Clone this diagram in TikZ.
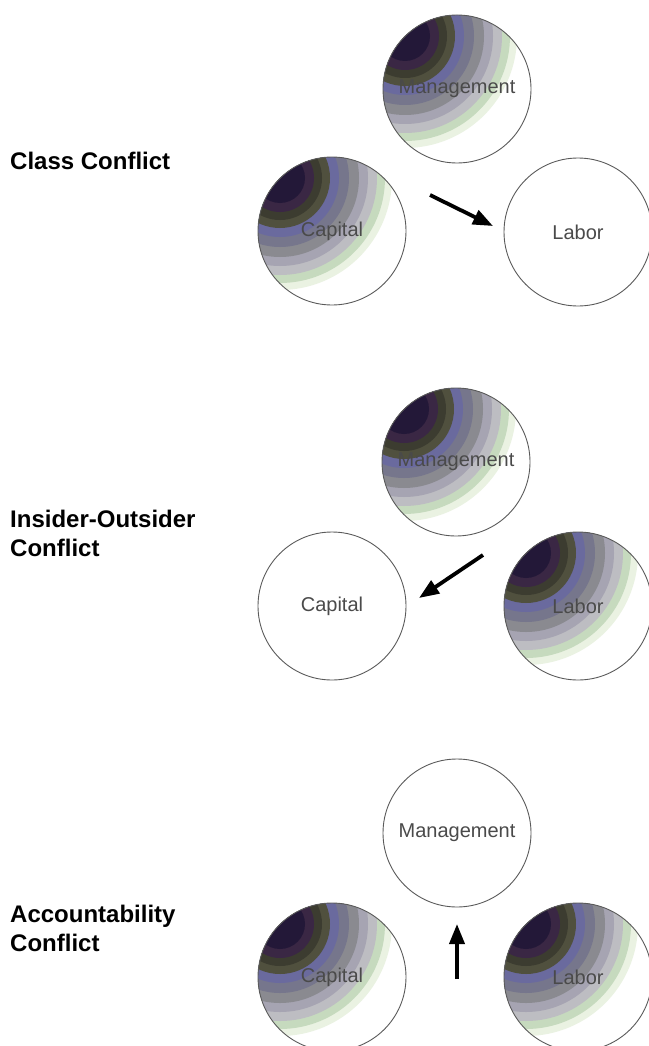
\documentclass[tikz,border=0pt]{standalone}
\usepackage{fontspec}
\setmainfont{Liberation Sans}
\usetikzlibrary{arrows.meta}
\definecolor{bandA}{HTML}{231838}
\definecolor{bandB}{HTML}{3A2744}
\definecolor{bandC}{HTML}{3C3C30}
\definecolor{bandD}{HTML}{50503E}
\definecolor{bandE}{HTML}{6A6A9E}
\definecolor{bandF}{HTML}{76768C}
\definecolor{bandG}{HTML}{8A8A90}
\definecolor{bandH}{HTML}{A6A4B2}
\definecolor{bandI}{HTML}{BDBDC2}
\definecolor{bandJ}{HTML}{C6DABE}
\definecolor{bandK}{HTML}{EAF2E2}
\definecolor{rim}{HTML}{5A5A5A}
\definecolor{labelgray}{HTML}{4A4A4A}
\begin{document}
\begin{tikzpicture}[x=1pt,y=-1pt,
  ball/.style={circle,draw=rim,line width=0.9pt,fill=white,minimum size=148pt,inner sep=0pt,
    text=labelgray,font=\fontsize{20}{23}\selectfont},
  shaded/.style={ball,path picture={
    \foreach \rr/\cc in {112/bandK,105/bandJ,97/bandI,88/bandH,79/bandG,69/bandF,
                         59/bandE,50/bandD,42/bandC,34/bandB,25/bandA}
      \fill[\cc] ([shift={(-52,-53)}]path picture bounding box.center) circle (\rr pt);}},
  title/.style={anchor=north west,inner sep=0pt,align=left,font=\fontsize{24}{29}\selectfont\bfseries},
  push/.style={line width=3.8pt,-{Triangle[length=20pt,width=15pt]}}]
\useasboundingbox (0,0) rectangle (648,1046);
% class conflict
\node[title] (t1) at (10,152) {Class Conflict};
\node[shaded] (m1) at (457,89) {Management};
\node[shaded] (c1) at (332,231) {Capital};
\node[ball] (l1) at (578,232) {Labor};
\coordinate (a1) at (430,195);
\coordinate (b1) at (493,226);
\draw[push] (a1) -- (b1);
% insider-outsider conflict
\node[title] (t2) at (10,510) {Insider-Outsider\\Conflict};
\node[shaded] (m2) at (456,462) {Management};
\node[ball] (c2) at (332,606) {Capital};
\node[shaded] (l2) at (578,606) {Labor};
\coordinate (a2) at (483,555);
\coordinate (b2) at (419,598);
\draw[push] (a2) -- (b2);
% accountability conflict
\node[title] (t3) at (10,905) {Accountability\\Conflict};
\node[ball] (m3) at (457,833) {Management};
\node[shaded] (c3) at (332,977) {Capital};
\node[shaded] (l3) at (578,977) {Labor};
\coordinate (a3) at (457,979);
\coordinate (b3) at (457,924);
\draw[push] (a3) -- (b3);
\end{tikzpicture}
\end{document}
